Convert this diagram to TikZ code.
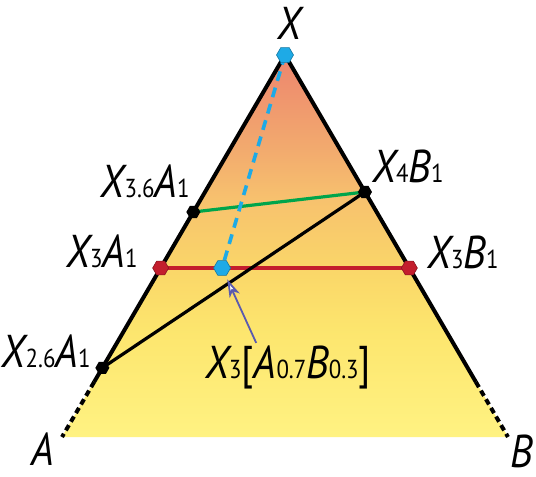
\documentclass[tikz,border=0pt]{standalone}
\usepackage{fontspec}
\setsansfont{PT Sans}[FakeStretch=0.88]
\usetikzlibrary{arrows.meta,positioning,calc,shapes.geometric}
\definecolor{dotcyan}{RGB}{30,170,230}
\definecolor{edgered}{RGB}{195,30,45}
\definecolor{edgegreen}{RGB}{0,165,75}
\definecolor{arrowblue}{RGB}{90,90,175}
\pgfdeclareverticalshading{trishade}{100bp}{%
  rgb(0bp)=(1,0.95,0.51); rgb(25bp)=(1,0.95,0.51);
  rgb(39bp)=(0.99,0.90,0.43); rgb(47bp)=(0.98,0.84,0.41);
  rgb(56bp)=(0.97,0.76,0.43); rgb(62.5bp)=(0.95,0.67,0.43);
  rgb(75bp)=(0.93,0.52,0.43); rgb(100bp)=(0.93,0.52,0.43)}
\newcommand{\lo}[1]{{\fontsize{13}{13}\selectfont\upshape #1}}
\tikzset{
  edge/.style={line width=2pt, black},
  edgetail/.style={line width=2pt, black, dash pattern=on 3pt off 2pt},
  chord/.style={line width=1.6pt},
  hexdot/.style={regular polygon, regular polygon sides=6, inner sep=0pt, minimum size=#1},
  lab/.style={inner sep=0pt, font=\fontsize{23}{23}\selectfont\sffamily\itshape},
  pointer/.style={draw=arrowblue, line width=0.9pt, -{Stealth[fill=white, length=9pt, width=5.5pt, inset=2.5pt]}, shorten >=2pt}
}
\begin{document}
\begin{tikzpicture}[x=0.5pt, y=-0.5pt, line join=round]
  \useasboundingbox (0,0) rectangle (536,477);
  % triangle
  \coordinate (X) at (285,55);
  \coordinate (A) at (62,437);
  \coordinate (B) at (508,437);
  \coordinate (Aend) at ($(X)!0.856!(A)$);
  \coordinate (Bend) at ($(X)!0.856!(B)$);
  \shade[shading=trishade] (X) -- (A) -- (B) -- cycle;
  \draw[edge] (X) -- (Aend);
  \draw[edge] (X) -- (Bend);
  \draw[edgetail] (Aend) -- (A);
  \draw[edgetail] (Bend) -- (B);
  % points on the sides
  \coordinate (xa36) at ($(X)!0.411!(A)$);
  \coordinate (xa3) at ($(X)!0.5576!(A)$);
  \coordinate (xa26) at ($(X)!0.819!(A)$);
  \coordinate (xb4) at ($(X)!0.3586!(B)$);
  \coordinate (xb3) at ($(X)!0.5576!(B)$);
  \coordinate (mix) at ($(xa3)!0.247!(xb3)$);
  % chords
  \draw[chord, edgegreen] (xa36) -- (xb4);
  \draw[chord, edgered] (xa3) -- (xb3);
  \draw[chord, black] (xa26) -- (xb4);
  \draw[line width=1.8pt, dotcyan, dash pattern=on 5pt off 3.5pt] (X) -- (mix);
  % dots
  \node[hexdot=8.5pt, fill=dotcyan, draw=dotcyan!70!black, line width=0.3pt] (nX) at (X) {};
  \node[hexdot=7pt, fill=black] (nxa36) at (xa36) {};
  \node[hexdot=7pt, fill=black] (nxb4) at (xb4) {};
  \node[hexdot=7pt, fill=black] (nxa26) at (xa26) {};
  \node[hexdot=8pt, fill=edgered, draw=edgered!70!black, line width=0.3pt] (nxa3) at (xa3) {};
  \node[hexdot=8pt, fill=edgered, draw=edgered!70!black, line width=0.3pt] (nxb3) at (xb3) {};
  \node[hexdot=8.5pt, fill=dotcyan, draw=dotcyan!70!black, line width=0.3pt] (nmix) at (mix) {};
  % labels
  \node[lab, anchor=base] (lX) at (289,39) {X};
  \node[lab, anchor=base east] (lxa36) at (190,197) {X\lo{3.6}A\lo{1}};
  \node[lab, anchor=base west] (lxb4) at (372,182) {X\lo{4}B\lo{1}};
  \node[lab, anchor=base east] (lxa3) at (138,267) {X\lo{3}A\lo{1}};
  \node[lab, anchor=base west] (lxb3) at (427,268) {X\lo{3}B\lo{1}};
  \node[lab, anchor=base east] (lxa26) at (91,367) {X\lo{2.6}A\lo{1}};
  \node[lab, anchor=base] (lA) at (43,465) {A};
  \node[lab, anchor=base west] (lB) at (510,467) {B};
  \node[lab, anchor=base west] (lmix) at (205,378) {X\lo{3}{\upshape[}A\lo{0.7}B\lo{0.3}{\upshape]}};
  \draw[pointer] ([xshift=-16pt, yshift=1pt]lmix.north) -- (nmix);
\end{tikzpicture}
\end{document}
